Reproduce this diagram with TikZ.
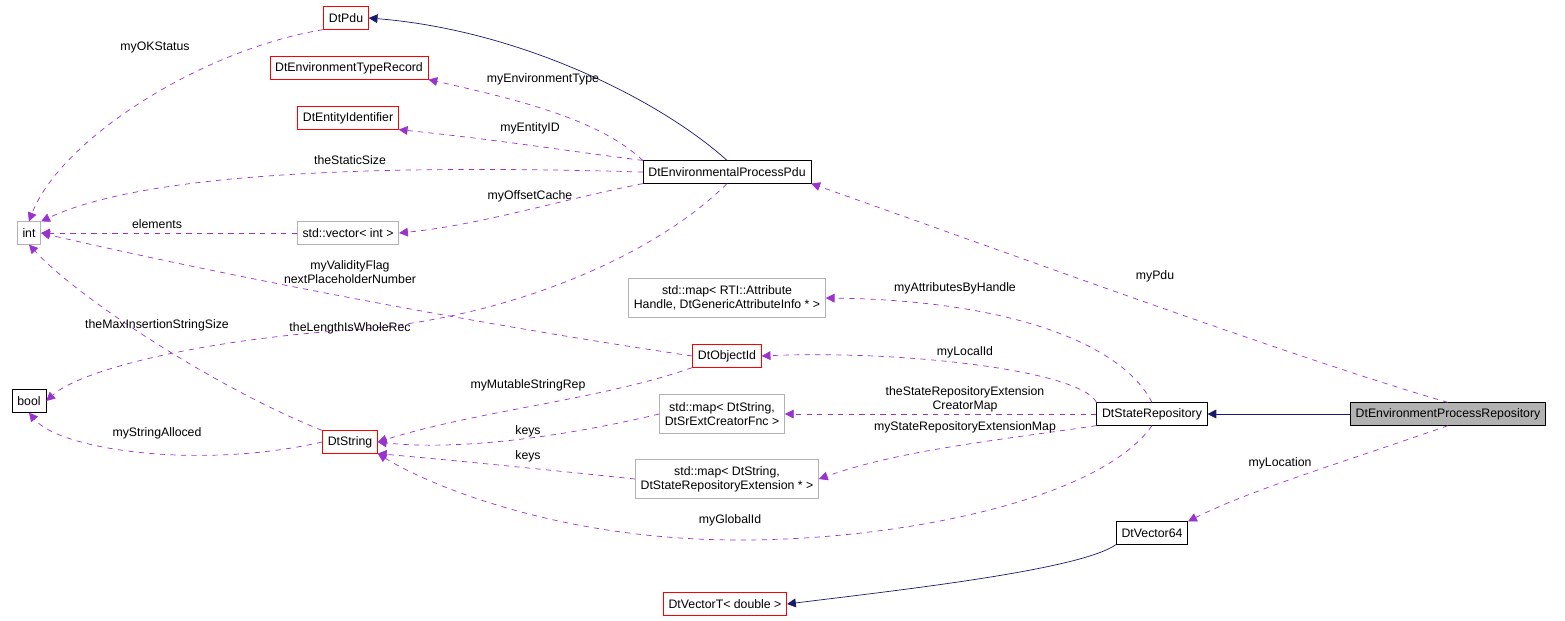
\documentclass[tikz,border=0pt]{standalone}
\usepackage{fontspec}
\setmainfont{Liberation Sans}
\usetikzlibrary{arrows.meta}
\definecolor{edgepurple}{HTML}{9A32CD}
\definecolor{edgenavy}{HTML}{191970}
\begin{document}
\begin{tikzpicture}[x=0.02cm, y=-0.02cm,
    every node/.style={font=\fontsize{7}{8}\selectfont},
    cls/.style={draw, thin, inner sep=3pt, minimum height=0.45cm, align=center},
    red cls/.style={cls, draw=red},
    ext cls/.style={cls, draw=gray!60},
    use/.style={edgepurple, dashed, -{Triangle[length=5pt,width=5pt]}},
    inherit/.style={edgenavy, -{Triangle[length=5pt,width=5pt]}},
    lbl/.style={align=center, inner sep=1pt, text=black}]
        \useasboundingbox (0,0) rectangle (1565,620);
        % classes
        \node[red cls] (pdu) at (346,18) {DtPdu};
        \node[red cls] (envtype) at (349,68) {DtEnvironmentTypeRecord};
        \node[red cls] (entity) at (348,118) {DtEntityIdentifier};
        \node[cls] (envpdu) at (727,172) {DtEnvironmentalProcessPdu};
        \node[ext cls] (int) at (29,233) {int};
        \node[ext cls] (vec) at (348,233) {std::vector< int >};
        \node[ext cls, minimum height=0.78cm] (attrmap) at (727,298) {std::map< RTI::Attribute\\Handle, DtGenericAttributeInfo * >};
        \node[cls] (bool) at (29,401) {bool};
        \node[red cls] (objid) at (727,356) {DtObjectId};
        \node[red cls] (str) at (350,442) {DtString};
        \node[ext cls, minimum height=0.78cm] (crmap) at (722,414) {std::map< DtString,\\DtSrExtCreatorFnc >};
        \node[cls] (staterep) at (1152,414) {DtStateRepository};
        \node[cls, fill=gray!60] (envrep) at (1448,414) {DtEnvironmentProcessRepository};
        \node[ext cls, minimum height=0.78cm] (extmap) at (727,479) {std::map< DtString,\\DtStateRepositoryExtension * >};
        \node[cls] (vec64) at (1152,533) {DtVector64};
        \node[red cls] (vect) at (725,604) {DtVectorT< double >};
        % inheritance
        \draw[inherit] (envpdu.north) .. controls (660,100) and (520,30) .. (pdu.east);
        \draw[inherit] (envrep) -- (staterep);
        \draw[inherit] (vec64.south west) .. controls (1080,570) and (900,590) .. (vect.east);
        % members
        \draw[use] (pdu.south west) .. controls (200,50) and (60,140) .. (int.north);
        \draw[use] (envpdu.north west) .. controls (600,120) and (520,100) .. (envtype.south east);
        \draw[use] (envpdu.north west) .. controls (560,150) and (500,140) .. (entity.south east);
        \draw[use] (envpdu.west) .. controls (400,165) and (150,170) .. (int.north east);
        \draw[use] (envpdu.south west) .. controls (560,200) and (480,225) .. (vec.east);
        \draw[use] (vec) -- (int);
        \draw[use] (objid.west) .. controls (450,320) and (200,270) .. (int.east);
        \draw[use] (envpdu.south) .. controls (650,260) and (500,320) .. (350,330) .. controls (200,340) and (80,370) .. (bool.east);
        \draw[use] (str.north west) .. controls (220,390) and (80,300) .. (int.south);
        \draw[use] (str.west) .. controls (200,470) and (60,450) .. (bool.south);
        \draw[use] (objid.south west) .. controls (600,400) and (480,410) .. (str.east);
        \draw[use] (crmap.west) .. controls (550,440) and (450,450) .. (str.east);
        \draw[use] (extmap.west) .. controls (550,470) and (450,460) .. (str.south east);
        \draw[use] (staterep.south) .. controls (1100,500) and (900,540) .. (740,540) .. controls (550,540) and (420,480) .. (str.south east);
        \draw[use] (staterep.north) .. controls (1120,340) and (1000,300) .. (attrmap.east);
        \draw[use] (staterep.north west) .. controls (1080,370) and (900,350) .. (objid.east);
        \draw[use] (staterep.west) -- (crmap.east);
        \draw[use] (staterep.south west) .. controls (1000,440) and (900,450) .. (extmap.east);
        \draw[use] (envrep.north) .. controls (1300,360) and (1000,250) .. (envpdu.south east);
        \draw[use] (envrep.south) .. controls (1350,460) and (1250,490) .. (vec64.north east);
        % labels
        \node[lbl] (l-ok) at (155,47) {myOKStatus};
        \node[lbl] (l-envtype) at (543,79) {myEnvironmentType};
        \node[lbl] (l-entity) at (530,128) {myEntityID};
        \node[lbl] (l-static) at (350,160) {theStaticSize};
        \node[lbl] (l-offset) at (530,196) {myOffsetCache};
        \node[lbl] (l-elem) at (157,224) {elements};
        \node[lbl] (l-valid) at (350,272) {myValidityFlag\\nextPlaceholderNumber};
        \node[lbl] (l-length) at (350,328) {theLengthIsWholeRec};
        \node[lbl] (l-maxins) at (157,325) {theMaxInsertionStringSize};
        \node[lbl] (l-alloc) at (157,433) {myStringAlloced};
        \node[lbl] (l-mutable) at (528,385) {myMutableStringRep};
        \node[lbl] (l-keys1) at (528,431) {keys};
        \node[lbl] (l-keys2) at (528,456) {keys};
        \node[lbl] (l-global) at (730,520) {myGlobalId};
        \node[lbl] (l-attr) at (955,288) {myAttributesByHandle};
        \node[lbl] (l-local) at (965,352) {myLocalId};
        \node[lbl] (l-creator) at (965,399) {theStateRepositoryExtension\\CreatorMap};
        \node[lbl] (l-extmap) at (965,427) {myStateRepositoryExtensionMap};
        \node[lbl] (l-pdu) at (1155,276) {myPdu};
        \node[lbl] (l-loc) at (1280,463) {myLocation};
\end{tikzpicture}
\end{document}
